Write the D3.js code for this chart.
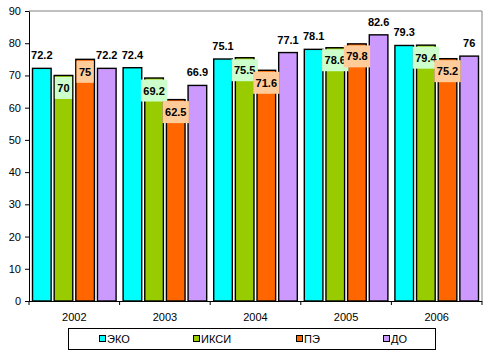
<!DOCTYPE html>
<html><head><meta charset="utf-8">
<script src="https://cdn.jsdelivr.net/npm/d3@7"></script>
<style>body{margin:0;background:#fff}svg{display:block}</style>
</head><body>
<script>
const years = ["2002","2003","2004","2005","2006"];
const seriesNames = ["ЭКО","ИКСИ","ПЭ","ДО"];
const eko  = [72.2, 72.4, 75.1, 78.1, 79.3];
const iksi = [70,   69.2, 75.5, 78.6, 79.4];
const pe   = [75,   62.5, 71.6, 79.8, 75.2];
const dO   = [72.2, 66.9, 77.1, 82.6, 76];
const yTicks = [0,10,20,30,40,50,60,70,80,90];

const seriesValues = [eko, iksi, pe, dO];
const colors = ["#00FFFF","#99CC00","#FF6600","#CC99FF"];
const labelBg = [null, "#CCFFCC", "#FFCC99", null];

const W = 493, H = 360;
const m = {l:29, t:11, r:482, b:301};
const svg = d3.select("body").append("svg").attr("width",W).attr("height",H)
  .style("font-family","Arial, 'Liberation Sans', sans-serif");

const x = d3.scaleBand().domain(years).range([m.l, m.r]).padding(0);
const y = d3.scaleLinear().domain([0,90]).range([m.b, m.t]);
const inner = d3.scaleBand().domain(d3.range(4)).range([3.5, x.bandwidth()-3.5]).paddingInner(0.14);

// plot border (gray top/right)
svg.append("path").attr("d",`M${m.l},${m.t}H${m.r}V${m.b}`).attr("fill","none").attr("stroke","#808080").attr("stroke-width",1);

// bars
const g = svg.append("g");
seriesValues.forEach((vals,si)=>{
  g.selectAll(".b"+si).data(vals).enter().append("rect")
    .attr("x",(d,i)=>x(years[i])+inner(si))
    .attr("y",d=>y(d))
    .attr("width",inner.bandwidth())
    .attr("height",d=>y(0)-y(d))
    .attr("fill",colors[si]).attr("stroke","#000").attr("stroke-width",1.4);
});

// axes
const yAxis = svg.append("g").attr("transform",`translate(${m.l},0)`)
  .call(d3.axisLeft(y).tickValues(yTicks).tickSize(4).tickSizeOuter(0).tickPadding(4));
yAxis.select(".domain").attr("stroke","#000");
yAxis.selectAll("text").attr("font-size",11).attr("fill","#000").attr("font-family","Arial, 'Liberation Sans', sans-serif");

const xAxis = svg.append("g").attr("transform",`translate(0,${m.b})`);
xAxis.append("line").attr("x1",m.l).attr("x2",m.r).attr("y1",0.5).attr("y2",0.5).attr("stroke","#000");
const bounds = years.map(d=>x(d)).concat([x(years[years.length-1])+x.bandwidth()]);
xAxis.selectAll(".tk").data(bounds).enter().append("line")
  .attr("x1",d=>d).attr("x2",d=>d).attr("y1",0).attr("y2",4).attr("stroke","#000");
xAxis.selectAll(".xl").data(years).enter().append("text")
  .attr("x",d=>x(d)+x.bandwidth()/2).attr("y",19.5).attr("text-anchor","middle")
  .attr("font-size",11).attr("fill","#000").text(d=>d);

// labels
const lf = "bold 11px 'Liberation Sans', Arial, sans-serif";
seriesValues.forEach((vals,si)=>{
  vals.forEach((v,i)=>{
    const cx = x(years[i])+inner(si)+inner.bandwidth()/2;
    const top = y(v);
    if(labelBg[si]){
      const t = svg.append("text").attr("x",cx).attr("y",top+16.5).attr("text-anchor","middle")
        .style("font",lf).attr("fill","#000").text(v);
      const w = t.node().getComputedTextLength()+5;
      svg.insert("rect", () => t.node()).attr("x",cx-w/2).attr("y",top+1.5).attr("width",w).attr("height",22)
        .attr("fill",labelBg[si]);
    } else {
      svg.append("text").attr("x",cx).attr("y",top-9).attr("text-anchor","middle")
        .style("font",lf).attr("fill","#000").text(v);
    }
  });
});

// legend
const leg = svg.append("g");
leg.append("rect").attr("x",68.5).attr("y",328.5).attr("width",367).attr("height",21)
  .attr("fill","#fff").attr("stroke","#000");
const legOffsets = [99, 193, 296, 383];
seriesNames.forEach((n,i)=>{
  leg.append("rect").attr("x",legOffsets[i]+0.5).attr("y",335.5).attr("width",6).attr("height",6)
    .attr("fill",colors[i]).attr("stroke","#000");
  leg.append("text").attr("x",legOffsets[i]+8).attr("y",342.5).attr("font-size",11).attr("fill","#000").text(n);
});
</script>
</body></html>
